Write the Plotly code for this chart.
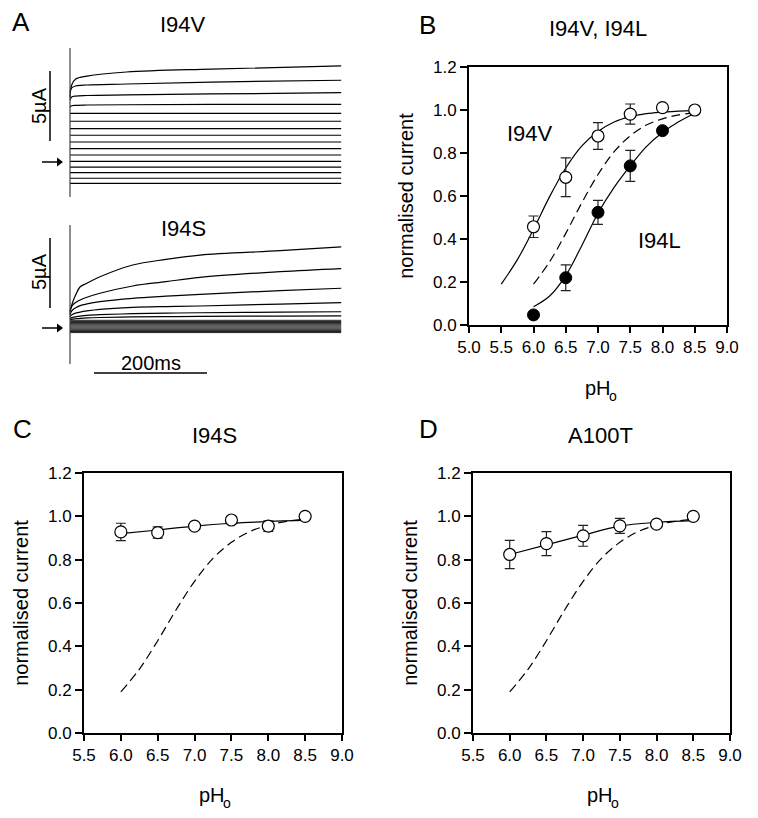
import plotly.graph_objects as go

# ---------------- data ----------------
# Panel A – I94V current traces (µA) sampled at times (ms)
I94V_T = [0, 3, 10, 30, 100, 250, 480]
I94V_RISING = [
    [4.60, 5.50, 5.93, 6.14, 6.43, 6.64, 6.86],
    [5.00, 5.29, 5.43, 5.50, 5.57, 5.71, 5.84],
    [4.43, 4.64, 4.71, 4.75, 4.79, 4.86, 4.95],
    [3.93, 4.02, 4.05, 4.07, 4.09, 4.11, 4.12],
]
I94V_FLAT = [3.48, 2.91, 2.38, 1.91, 1.43, 0.95, 0.50, 0.05, -0.36, -0.76, -1.16, -1.52]

# Panel A – I94S current traces (µA)
I94S_T = [0, 2, 5, 10, 18, 30, 53, 111, 170, 230, 372, 480]
I94S_RISING = [
    [1.20, 1.50, 1.88, 2.36, 2.95, 3.20, 3.66, 4.50, 4.90, 5.21, 5.52, 5.79],
    [1.10, 1.45, 1.65, 1.82, 2.00, 2.20, 2.48, 3.00, 3.31, 3.62, 4.02, 4.24],
    [0.95, 1.15, 1.30, 1.45, 1.60, 1.72, 1.88, 2.12, 2.27, 2.40, 2.67, 2.84],
    [0.80, 0.90, 0.98, 1.06, 1.14, 1.22, 1.33, 1.47, 1.53, 1.57, 1.71, 1.81],
    [0.68, 0.72, 0.76, 0.80, 0.85, 0.90, 0.95, 1.02, 1.06, 1.09, 1.13, 1.16],
    [0.60, 0.62, 0.64, 0.66, 0.69, 0.72, 0.75, 0.79, 0.81, 0.83, 0.85, 0.86],
]
I94S_FLAT = [0.55, 0.47, 0.39, 0.31, 0.23, 0.15, 0.07, -0.01, -0.09, -0.17, -0.25, -0.33]

TRACE_END_MS = 480
TRANSIENT_A1 = [-2.5, 8.14]   # µA span of capacitive transient, I94V
TRANSIENT_A2 = [-2.57, 7.36]  # µA span, I94S
SCALE_UA = 5
SCALE_MS = 200

# Panel B
PH = [6.0, 6.5, 7.0, 7.5, 8.0, 8.5]
I94V_MEAN = [0.457, 0.687, 0.879, 0.981, 1.011, 1.0]
I94V_ERR = [0.050, 0.090, 0.062, 0.047, 0.0, 0.0]
I94L_PH = [6.0, 6.5, 7.0, 7.5, 8.0]
I94L_MEAN = [0.047, 0.220, 0.524, 0.740, 0.904]
I94L_ERR = [0.0, 0.060, 0.056, 0.072, 0.0]

FIT_PH_V = [5.5, 5.75, 6.0, 6.25, 6.5, 6.75, 7.0, 7.25, 7.5, 7.75, 8.0, 8.25, 8.5]
FIT_I94V = [0.19, 0.304, 0.445, 0.597, 0.73, 0.833, 0.90, 0.944, 0.969, 0.983, 0.99, 0.995, 0.997]
FIT_PH = [6.0, 6.25, 6.5, 6.75, 7.0, 7.25, 7.5, 7.75, 8.0, 8.25, 8.5]
FIT_WT = [0.19, 0.294, 0.426, 0.569, 0.70, 0.806, 0.88, 0.93, 0.959, 0.977, 0.987]
FIT_I94L = [0.085, 0.135, 0.23, 0.37, 0.52, 0.64, 0.74, 0.83, 0.895, 0.945, 0.985]

# Panel C
I94S_MEAN = [0.928, 0.925, 0.955, 0.983, 0.955, 1.0]
I94S_ERR = [0.040, 0.026, 0.012, 0.015, 0.024, 0.0]
I94S_FIT = [0.920, 0.937, 0.955, 0.968, 0.976, 0.981]

# Panel D
A100T_MEAN = [0.824, 0.874, 0.910, 0.956, 0.964, 1.0]
A100T_ERR = [0.065, 0.055, 0.048, 0.035, 0.0, 0.0]
A100T_FIT = [0.824, 0.868, 0.913, 0.955, 0.972, 0.980]

X_TITLE, X_TITLE_SUB = "pH", "o"
Y_TITLE = "normalised current"

# ---------------- layout helpers ----------------
W, H = 758, 818
FONT = "Liberation Sans, Arial, sans-serif"


def px(x, y):
    return x / W, 1 - y / H


def xdom(a, b):
    return [a / W, b / W]


def ydom(top, bottom):
    return [1 - bottom / H, 1 - top / H]


# panel A pixel calibration
T0_PX, PX_PER_MS, PX_PER_UA = 70, 0.565, 14.0
A1_ZERO, A2_ZERO = 162, 328
A_LEFT, A_RIGHT = 0, 350
A1_TOP, A1_BOT = 40, 205
A2_TOP, A2_BOT = 210, 385


def t_of(pxx):
    return (pxx - T0_PX) / PX_PER_MS


def ua_of(pyy, zero):
    return (zero - pyy) / PX_PER_UA


fig = go.Figure()

LINE = dict(color="black", width=1.2)

# ---- panel A traces ----
for tr in I94V_RISING:
    fig.add_trace(go.Scatter(x=I94V_T, y=tr, mode="lines", line=dict(LINE, shape="spline"),
                             xaxis="x", yaxis="y", showlegend=False, hoverinfo="skip"))
for v in I94V_FLAT:
    fig.add_trace(go.Scatter(x=[0, TRACE_END_MS], y=[v, v], mode="lines", line=LINE,
                             xaxis="x", yaxis="y", showlegend=False, hoverinfo="skip"))
for tr in I94S_RISING:
    fig.add_trace(go.Scatter(x=I94S_T, y=tr, mode="lines", line=dict(LINE, shape="spline"),
                             xaxis="x2", yaxis="y2", showlegend=False, hoverinfo="skip"))
for v in I94S_FLAT:
    fig.add_trace(go.Scatter(x=[0, TRACE_END_MS], y=[v, v], mode="lines",
                             line=dict(color="#1c1c1c", width=1.0),
                             xaxis="x2", yaxis="y2", showlegend=False, hoverinfo="skip"))

# zero-current arrows (line + triangular head)
ARROW_X = [t_of(42), t_of(57)]
for xa, ya in (("x", "y"), ("x2", "y2")):
    fig.add_trace(go.Scatter(x=ARROW_X, y=[0, 0], mode="lines", line=dict(color="black", width=1.5),
                             xaxis=xa, yaxis=ya, showlegend=False, hoverinfo="skip"))
    fig.add_trace(go.Scatter(x=[t_of(59)], y=[0], mode="markers",
                             marker=dict(symbol="triangle-right", size=8, color="black"),
                             xaxis=xa, yaxis=ya, showlegend=False, hoverinfo="skip"))

# ---- panels B, C, D ----
ERR = dict(type="data", color="#222", thickness=1.2, width=5)
OPEN = dict(symbol="circle", size=12, color="white", line=dict(color="black", width=1.2))
FILLED = dict(symbol="circle", size=12, color="black", line=dict(color="black", width=1))
CURVE = dict(color="black", width=1.2, shape="spline")
DASH = dict(color="black", width=1.2, shape="spline", dash="9px,5px")


def add_panel(xa, ya, items):
    for it in items:
        it.update(xaxis=xa, yaxis=ya, showlegend=False, hoverinfo="skip")
        fig.add_trace(go.Scatter(**it))


add_panel("x3", "y3", [
    dict(x=FIT_PH, y=FIT_WT, mode="lines", line=DASH),
    dict(x=FIT_PH_V, y=FIT_I94V, mode="lines", line=CURVE),
    dict(x=FIT_PH, y=FIT_I94L, mode="lines", line=CURVE),
    dict(x=PH, y=I94V_MEAN, mode="markers", marker=OPEN,
         error_y=dict(ERR, array=I94V_ERR)),
    dict(x=I94L_PH, y=I94L_MEAN, mode="markers", marker=FILLED,
         error_y=dict(ERR, array=I94L_ERR)),
])
add_panel("x4", "y4", [
    dict(x=FIT_PH, y=FIT_WT, mode="lines", line=DASH),
    dict(x=PH, y=I94S_FIT, mode="lines", line=CURVE),
    dict(x=PH, y=I94S_MEAN, mode="markers", marker=OPEN,
         error_y=dict(ERR, array=I94S_ERR)),
])
add_panel("x5", "y5", [
    dict(x=FIT_PH, y=FIT_WT, mode="lines", line=DASH),
    dict(x=PH, y=A100T_FIT, mode="lines", line=CURVE),
    dict(x=PH, y=A100T_MEAN, mode="markers", marker=OPEN,
         error_y=dict(ERR, array=A100T_ERR)),
])

# ---- axes ----
def hidden_x(a, b, anchor):
    return dict(domain=xdom(a, b), range=[t_of(a), t_of(b)], visible=False,
                fixedrange=True, automargin=False, anchor=anchor)


def hidden_y(top, bot, z, anchor):
    return dict(domain=ydom(top, bot), range=[ua_of(bot, z), ua_of(top, z)], visible=False,
                fixedrange=True, automargin=False, anchor=anchor)


def ph_x(a, b, lo, anchor):
    return dict(domain=xdom(a, b), range=[lo, 9.0], tick0=5.0, dtick=0.5, tickformat=".1f",
                ticks="outside", ticklen=6, tickwidth=1.5, tickcolor="black",
                showline=True, linewidth=1.8, linecolor="black", mirror=True,
                showgrid=False, zeroline=False, anchor=anchor, automargin=False,
                tickfont=dict(size=17, color="black", family=FONT))


def cur_y(top, bot, anchor):
    return dict(domain=ydom(top, bot), range=[0, 1.2], tick0=0, dtick=0.2, tickformat=".1f",
                ticks="outside", ticklen=7, tickwidth=1.5, tickcolor="black",
                showline=True, linewidth=1.8, linecolor="black", mirror=True,
                showgrid=False, zeroline=False, anchor=anchor, automargin=False,
                tickfont=dict(size=17, color="black", family=FONT),
                title=dict(text=Y_TITLE, standoff=14, font=dict(size=20, color="black", family=FONT)))


layout = dict(
    template="none",
    width=W, height=H, margin=dict(l=0, r=0, t=0, b=0, pad=0), autosize=False,
    paper_bgcolor="white", plot_bgcolor="rgba(0,0,0,0)",
    font=dict(family=FONT, color="black"),
    showlegend=False,
    xaxis=hidden_x(A_LEFT, A_RIGHT, "y"),
    yaxis=hidden_y(A1_TOP, A1_BOT, A1_ZERO, "x"),
    xaxis2=hidden_x(A_LEFT, A_RIGHT, "y2"),
    yaxis2=hidden_y(A2_TOP, A2_BOT, A2_ZERO, "x2"),
    xaxis3=ph_x(469, 727, 5.0, "y3"),
    yaxis3=cur_y(67, 325, "x3"),
    xaxis4=ph_x(84, 342, 5.5, "y4"),
    yaxis4=cur_y(473, 733, "x4"),
    xaxis5=ph_x(473, 730, 5.5, "y5"),
    yaxis5=cur_y(473, 733, "x5"),
)

shapes = []
bar_t = t_of(50)
shapes.append(dict(type="line", xref="x", yref="y", x0=0, x1=0, y0=TRANSIENT_A1[0], y1=TRANSIENT_A1[1],
                   line=dict(color="#444", width=1.2)))
shapes.append(dict(type="line", xref="x2", yref="y2", x0=0, x1=0, y0=TRANSIENT_A2[0], y1=TRANSIENT_A2[1],
                   line=dict(color="#444", width=1.2)))
b1 = ua_of(141, A1_ZERO)
shapes.append(dict(type="line", xref="x", yref="y", x0=bar_t, x1=bar_t, y0=b1, y1=b1 + SCALE_UA,
                   line=dict(color="black", width=1.5)))
b2 = ua_of(308, A2_ZERO)
shapes.append(dict(type="line", xref="x2", yref="y2", x0=bar_t, x1=bar_t, y0=b2, y1=b2 + SCALE_UA,
                   line=dict(color="black", width=1.5)))
ms0 = t_of(94)
ms_y = ua_of(373, A2_ZERO)
shapes.append(dict(type="line", xref="x2", yref="y2", x0=ms0, x1=ms0 + SCALE_MS, y0=ms_y, y1=ms_y,
                   line=dict(color="black", width=1.5)))
layout["shapes"] = shapes

ann = []


def ptext(text, x, y, size, angle=0, xanchor="center"):
    X, Y = px(x, y)
    ann.append(dict(text=text, x=X, y=Y, xref="paper", yref="paper", showarrow=False,
                    xanchor=xanchor, yanchor="middle", textangle=angle,
                    font=dict(size=size, color="black", family=FONT)))


# panel letters
ptext("A", 21, 22, 26)
ptext("B", 427, 25, 26)
ptext("C", 22, 429, 26)
ptext("D", 428, 429, 26)
# titles
ptext("I94V", 183, 25, 22)
ptext("I94S", 183, 228, 22)
ptext("I94V, I94L", 598, 28, 22)
ptext("I94S", 214, 435, 22)
ptext("A100T", 600, 435, 22)
# x-axis titles (pH with subscript o)
for xr, yc in ((613, 388), (227, 795), (615, 795)):
    ptext(X_TITLE, xr, yc, 20, xanchor="right")
    ptext(X_TITLE_SUB, xr - 6, yc + 8, 14, xanchor="left")
# in-plot labels panel B
ann.append(dict(text="I94V", x=5.95, y=0.893, xref="x3", yref="y3", showarrow=False,
                font=dict(size=22, color="black", family=FONT)))
ann.append(dict(text="I94L", x=7.96, y=0.395, xref="x3", yref="y3", showarrow=False,
                font=dict(size=22, color="black", family=FONT)))
# scale bar labels panel A
ann.append(dict(text="5µA", x=t_of(39), y=ua_of(106, A1_ZERO), xref="x", yref="y", showarrow=False,
                textangle=-90, font=dict(size=20, color="black", family=FONT)))
ann.append(dict(text="5µA", x=t_of(39), y=ua_of(272, A2_ZERO), xref="x2", yref="y2", showarrow=False,
                textangle=-90, font=dict(size=20, color="black", family=FONT)))
ann.append(dict(text="200ms", x=ms0 + SCALE_MS / 2, y=ua_of(363, A2_ZERO), xref="x2", yref="y2",
                showarrow=False, font=dict(size=20, color="black", family=FONT)))
layout["annotations"] = ann

fig.update_layout(**layout)
fig.write_html("out.html", config={"displayModeBar": False},
               post_script="document.body.style.margin='0';document.body.style.padding='0';")
